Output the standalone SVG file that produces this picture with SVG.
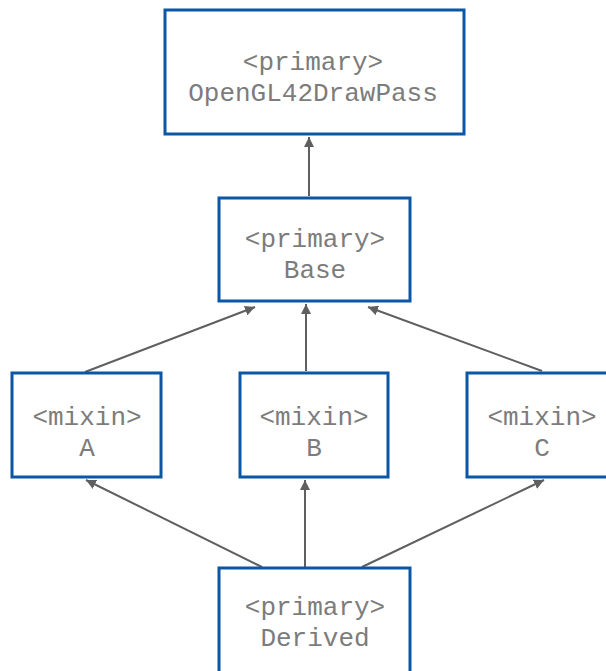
<svg xmlns="http://www.w3.org/2000/svg" width="606" height="671" viewBox="0 0 606 671">
  <style>
    .box { fill: #ffffff; stroke: #0b57a6; stroke-width: 3; }
    .label { font-family: "Liberation Mono", "Courier New", monospace; font-size: 26px; fill: #7c7c7c; text-anchor: middle; }
    .edge { stroke: #5f5f5f; stroke-width: 2; fill: none; marker-end: url(#arrow); }
  </style>
  <defs>
    <marker id="arrow" viewBox="0 0 10 10" refX="10" refY="5" markerWidth="5" markerHeight="5" orient="auto" markerUnits="strokeWidth">
      <path d="M0,0 L10,5 L0,10 z" fill="#5f5f5f"/>
    </marker>
  </defs>

  <rect width="606" height="671" fill="#ffffff"/>

  <g id="connectors">
    <line class="edge" x1="309" y1="196" x2="309" y2="137"/>
    <line class="edge" x1="85" y1="372" x2="255" y2="307"/>
    <line class="edge" x1="306" y1="371" x2="306" y2="304"/>
    <line class="edge" x1="542" y1="371" x2="368" y2="307"/>
    <line class="edge" x1="262" y1="567" x2="86" y2="480"/>
    <line class="edge" x1="305" y1="567" x2="305" y2="480"/>
    <line class="edge" x1="362" y1="567" x2="544" y2="480"/>
  </g>

  <g id="node-opengl42drawpass">
    <rect class="box" x="165" y="10" width="299" height="124"/>
    <text class="label" x="313" y="70">&lt;primary&gt;</text>
    <text class="label" x="313" y="101">OpenGL42DrawPass</text>
  </g>

  <g id="node-base">
    <rect class="box" x="219" y="198" width="191" height="103"/>
    <text class="label" x="315" y="247">&lt;primary&gt;</text>
    <text class="label" x="315" y="278">Base</text>
  </g>

  <g id="node-a">
    <rect class="box" x="12" y="373" width="149" height="104"/>
    <text class="label" x="87" y="425">&lt;mixin&gt;</text>
    <text class="label" x="87" y="456">A</text>
  </g>

  <g id="node-b">
    <rect class="box" x="240" y="373" width="148" height="104"/>
    <text class="label" x="314" y="425">&lt;mixin&gt;</text>
    <text class="label" x="314" y="456">B</text>
  </g>

  <g id="node-c">
    <rect class="box" x="467" y="373" width="149" height="104"/>
    <text class="label" x="542" y="425">&lt;mixin&gt;</text>
    <text class="label" x="542" y="456">C</text>
  </g>

  <g id="node-derived">
    <rect class="box" x="219" y="568" width="191" height="110"/>
    <text class="label" x="315" y="615">&lt;primary&gt;</text>
    <text class="label" x="315" y="646">Derived</text>
  </g>
</svg>
